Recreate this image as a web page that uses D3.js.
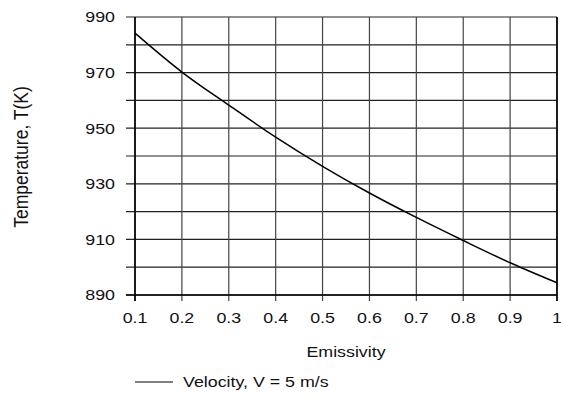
<!DOCTYPE html>
<html><head><meta charset="utf-8">
<script src="https://cdn.jsdelivr.net/npm/d3@7"></script>
<style>
body{margin:0;background:#fff;}
text{font-family:"Liberation Sans",Arial,sans-serif;fill:#111;}
</style></head>
<body>
<svg id="c" width="561" height="398"></svg>
<script>
const emissivity = [0.1,0.2,0.3,0.4,0.5,0.6,0.7,0.8,0.9,1.0];
const temperature = [984.2,970.2,958.3,946.8,936.3,926.7,917.9,909.6,901.6,894.4];
const xTicks = [0.1,0.2,0.3,0.4,0.5,0.6,0.7,0.8,0.9,1];
const yTicks = [890,900,910,920,930,940,950,960,970,980,990];
const yLabels = [890,910,930,950,970,990];
const seriesName = "Velocity, V = 5 m/s";
const xTitle = "Emissivity";
const yTitle = "Temperature, T(K)";

const svg = d3.select("#c");
const x = d3.scaleLinear().domain([0.1,1]).range([135,557]);
const y = d3.scaleLinear().domain([890,990]).range([295,17]);
const FS = 15.5, SX = 1.15;

// grid
svg.append("g").selectAll("line").data(yTicks).join("line")
  .attr("x1",126).attr("x2",x(1)).attr("y1",d=>y(d)).attr("y2",d=>y(d))
  .attr("stroke","#222").attr("stroke-width",1.2);
svg.append("g").selectAll("line").data(xTicks).join("line")
  .attr("x1",d=>x(d)).attr("x2",d=>x(d)).attr("y1",y(990)).attr("y2",y(890)+6)
  .attr("stroke","#444").attr("stroke-width",1.2);
// axis frame lines
svg.append("line").attr("x1",x(0.1)).attr("x2",x(0.1)).attr("y1",y(990)).attr("y2",y(890)+6).attr("stroke","#000").attr("stroke-width",1.6);
svg.append("line").attr("x1",x(1)).attr("x2",x(1)).attr("y1",y(990)).attr("y2",y(890)+6).attr("stroke","#000").attr("stroke-width",1.6);
svg.append("line").attr("x1",126).attr("x2",x(1)).attr("y1",y(890)).attr("y2",y(890)).attr("stroke","#000").attr("stroke-width",1.6);

// y labels
svg.append("g").selectAll("text").data(yLabels).join("text")
  .attr("transform",d=>`translate(115,${y(d)}) scale(${SX},1)`)
  .attr("text-anchor","end").attr("dy","0.35em").attr("font-size",FS)
  .text(d=>d);
// x labels
svg.append("g").selectAll("text").data(xTicks).join("text")
  .attr("transform",d=>`translate(${x(d)},318) scale(${SX},1)`)
  .attr("text-anchor","middle").attr("dy","0.35em").attr("font-size",FS)
  .text(d=>d3.format("")(d));

// curve
const line = d3.line().x((d,i)=>x(emissivity[i])).y(d=>y(d)).curve(d3.curveMonotoneX);
svg.append("path").datum(temperature).attr("d",line).attr("fill","none").attr("stroke","#000").attr("stroke-width",1.5);

// titles
svg.append("text").attr("transform",`translate(346,352) scale(${SX},1)`).attr("text-anchor","middle").attr("dy","0.35em").attr("font-size",FS).text(xTitle);
svg.append("text").attr("transform",`translate(21,157) rotate(-90) scale(1,${SX})`).attr("text-anchor","middle").attr("dy","0.35em").attr("font-size",17.5).text(yTitle);

// legend
svg.append("line").attr("x1",135).attr("x2",173).attr("y1",382).attr("y2",382).attr("stroke","#000").attr("stroke-width",1.2);
svg.append("text").attr("transform",`translate(183,382) scale(${SX},1)`).attr("dy","0.35em").attr("font-size",FS).text(seriesName);
</script>
</body></html>
